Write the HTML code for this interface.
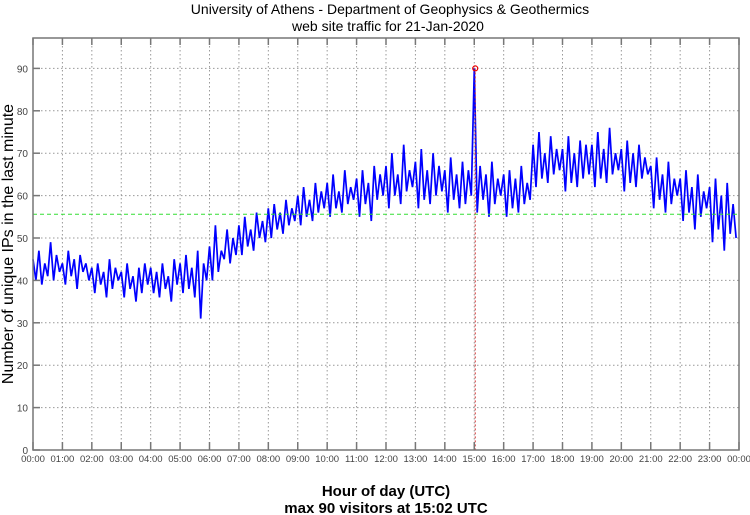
<!DOCTYPE html>
<html><head><meta charset="utf-8"><style>
body{margin:0;background:#fff;}
svg{display:block;font-family:"Liberation Sans",sans-serif;}
</style></head><body>
<svg id="chart" width="750" height="515">
<text x="390" y="14" font-size="14" text-anchor="middle">University of Athens - Department of Geophysics &amp; Geothermics</text>
<text x="388" y="31" font-size="14" text-anchor="middle">web site traffic for 21-Jan-2020</text>
<text x="386" y="496" font-size="15" font-weight="bold" text-anchor="middle">Hour of day (UTC)</text>
<text x="386" y="513" font-size="15" font-weight="bold" text-anchor="middle">max 90 visitors at 15:02 UTC</text>
<text transform="translate(13,244) rotate(-90)" font-size="16" text-anchor="middle">Number of unique IPs in the last minute</text>
<g id="grid"></g><g id="series"></g><g id="axes"></g>
</svg>
<script>
const yTicks=[0,10,20,30,40,50,60,70,80,90];
const xTickLabels=["00:00","01:00","02:00","03:00","04:00","05:00","06:00","07:00","08:00","09:00","10:00","11:00","12:00","13:00","14:00","15:00","16:00","17:00","18:00","19:00","20:00","21:00","22:00","23:00","00:00"];
const meanValue=55.6;
const maxValue=90;
const maxHour=15+2/60;
const visitors=[
45,40,47,39,44,41,49,40,46,42,
44,39,47,41,45,38,46,42,44,40,
43,37,44,39,42,36,45,38,43,40,
42,36,44,38,41,35,43,37,44,39,
43,37,42,36,44,38,41,35,45,39,
44,37,46,38,43,36,47,31,44,40,
48,40,53,42,47,45,52,44,50,46,
53,46,55,48,52,47,56,50,54,49,
57,50,58,52,56,51,59,53,57,54,
60,53,62,55,59,54,63,56,61,57,
63,55,65,57,61,56,66,58,62,59,
64,55,66,58,63,54,67,59,65,60,
67,57,70,60,65,58,72,61,66,62,
68,57,71,59,66,58,70,60,67,61,
66,56,69,59,65,57,68,58,66,60,
90,56,67,59,65,55,68,58,64,60,
65,55,66,57,64,56,67,58,63,59,
72,62,75,64,70,63,74,65,71,66,
71,61,74,63,70,62,73,64,72,65,
72,62,75,64,71,63,76,65,70,66,
71,61,73,63,70,62,72,64,69,65,
67,57,69,59,65,56,68,58,64,60,
64,54,66,56,62,52,65,55,61,57,
62,49,64,52,60,47,63,51,58,50];
const L=33,R=739,T=38,B=450;
const NS="http://www.w3.org/2000/svg";
function X(h){return L+(R-L)*h/24;}
function Y(v){return B-v*4.24;}
function mk(tag,attrs,parent){const e=document.createElementNS(NS,tag);for(const k in attrs)e.setAttribute(k,attrs[k]);parent.appendChild(e);return e;}
const grid=document.getElementById('grid'),ser=document.getElementById('series'),axes=document.getElementById('axes');
yTicks.forEach(v=>{
 if(v>0){const g=mk('line',{x1:L,x2:R,y1:Y(v),y2:Y(v),stroke:'#999','stroke-dasharray':'1.5,2.5','stroke-width':1},grid);
 
 }
 const t=mk('line',{x1:L,x2:L+7,y1:Y(v),y2:Y(v),stroke:'#777','stroke-width':1.5},axes);
 
 
 const tx=mk('text',{x:L-5,y:Y(v)+4,'font-size':10,'text-anchor':'end',fill:'#444'},axes);tx.textContent=v;
 
 
});
xTickLabels.forEach((lab,i)=>{
 if(i>0&&i<24){const g=mk('line',{x1:X(i),x2:X(i),y1:T,y2:B,stroke:'#999','stroke-dasharray':'1.5,2.5','stroke-width':1},grid);
 
 }
 const t1=mk('line',{x1:X(i),x2:X(i),y1:B,y2:B-8,stroke:'#777','stroke-width':1.5},axes);
 
 
 const t2=mk('line',{x1:X(i),x2:X(i),y1:T,y2:T+7,stroke:'#777','stroke-width':1.5},axes);
 
 
 const tx=mk('text',{x:X(i),y:B+12,'font-size':9.5,'text-anchor':'middle',fill:'#444'},axes);tx.textContent=lab;
 
 
});
const fr=mk('rect',{x:L,y:T,width:R-L,height:B-T,fill:'none',stroke:'#777','stroke-width':1.5},axes);


const pts=visitors.map((v,i)=>X(i*24/visitors.length).toFixed(1)+','+Y(v).toFixed(1)).join(' ');
const pl=mk('polyline',{points:pts,fill:'none',stroke:'#0000ff','stroke-width':1.7,'stroke-linejoin':'bevel'},ser);


const ml=mk('line',{x1:L,x2:R,y1:Y(meanValue),y2:Y(meanValue),stroke:'#33dd33','stroke-dasharray':'4,3','stroke-width':1},ser);


const vl=mk('line',{x1:X(maxHour),x2:X(maxHour),y1:Y(maxValue),y2:B,stroke:'#cc3333','stroke-dasharray':'2,2','stroke-width':1},ser);


const mc=mk('circle',{cx:X(maxHour),cy:Y(maxValue),r:2.5,fill:'none',stroke:'#ee0000','stroke-width':1.2},ser);


</script>
</body></html>
